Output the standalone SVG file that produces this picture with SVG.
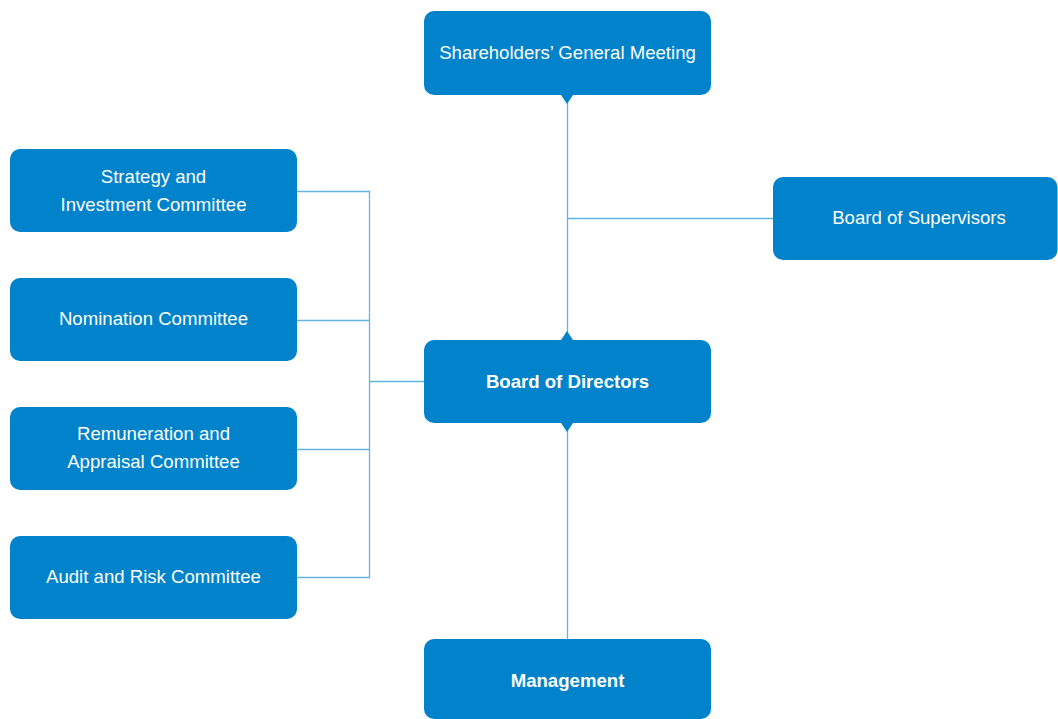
<svg xmlns="http://www.w3.org/2000/svg" width="1058" height="719" viewBox="0 0 1058 719">
  <style>
    .box { fill: #0083ca; }
    .lbl { font-family: "Liberation Sans", Arial, sans-serif; font-size: 18.6px; fill: #ffffff; text-anchor: middle; }
    .bold { font-weight: bold; }
    .ln { stroke: #62b3e6; stroke-width: 1.3; fill: none; }
    .tip { fill: #0083ca; }
  </style>
  <rect width="1058" height="719" fill="#ffffff"/>

  <g id="connectors">
    <path class="ln" d="M567.5 100 V335 M567.5 428 V639 M567.5 218.5 H773"/>
    <path class="ln" d="M297 191.5 H369.5 V577.5 H297 M297 320.5 H369.5 M297 449.5 H369.5 M369.5 381.5 H424"/>
    <polygon class="tip" points="561,95 573,95 567,104"/>
    <polygon class="tip" points="561,340 573,340 567,331"/>
    <polygon class="tip" points="561,423 573,423 567,432"/>
  </g>

  <g id="shareholders">
    <rect class="box" x="424" y="11" width="287" height="84" rx="10"/>
    <text class="lbl" x="567.5" y="59">Shareholders’ General Meeting</text>
  </g>
  <g id="supervisors">
    <rect class="box" x="773" y="177" width="284.5" height="83" rx="10"/>
    <text class="lbl" x="919" y="224">Board of Supervisors</text>
  </g>
  <g id="directors">
    <rect class="box" x="424" y="340" width="287" height="83" rx="10"/>
    <text class="lbl bold" x="567.5" y="388">Board of Directors</text>
  </g>
  <g id="management">
    <rect class="box" x="424" y="639" width="287" height="80" rx="10"/>
    <text class="lbl bold" x="567.5" y="687">Management</text>
  </g>
  <g id="strategy">
    <rect class="box" x="10" y="149" width="287" height="83" rx="10"/>
    <text class="lbl" x="153.5" y="183">Strategy and</text>
    <text class="lbl" x="153.5" y="211">Investment Committee</text>
  </g>
  <g id="nomination">
    <rect class="box" x="10" y="278" width="287" height="83" rx="10"/>
    <text class="lbl" x="153.5" y="325">Nomination Committee</text>
  </g>
  <g id="remuneration">
    <rect class="box" x="10" y="407" width="287" height="83" rx="10"/>
    <text class="lbl" x="153.5" y="440">Remuneration and</text>
    <text class="lbl" x="153.5" y="468">Appraisal Committee</text>
  </g>
  <g id="audit">
    <rect class="box" x="10" y="536" width="287" height="83" rx="10"/>
    <text class="lbl" x="153.5" y="583">Audit and Risk Committee</text>
  </g>
</svg>
